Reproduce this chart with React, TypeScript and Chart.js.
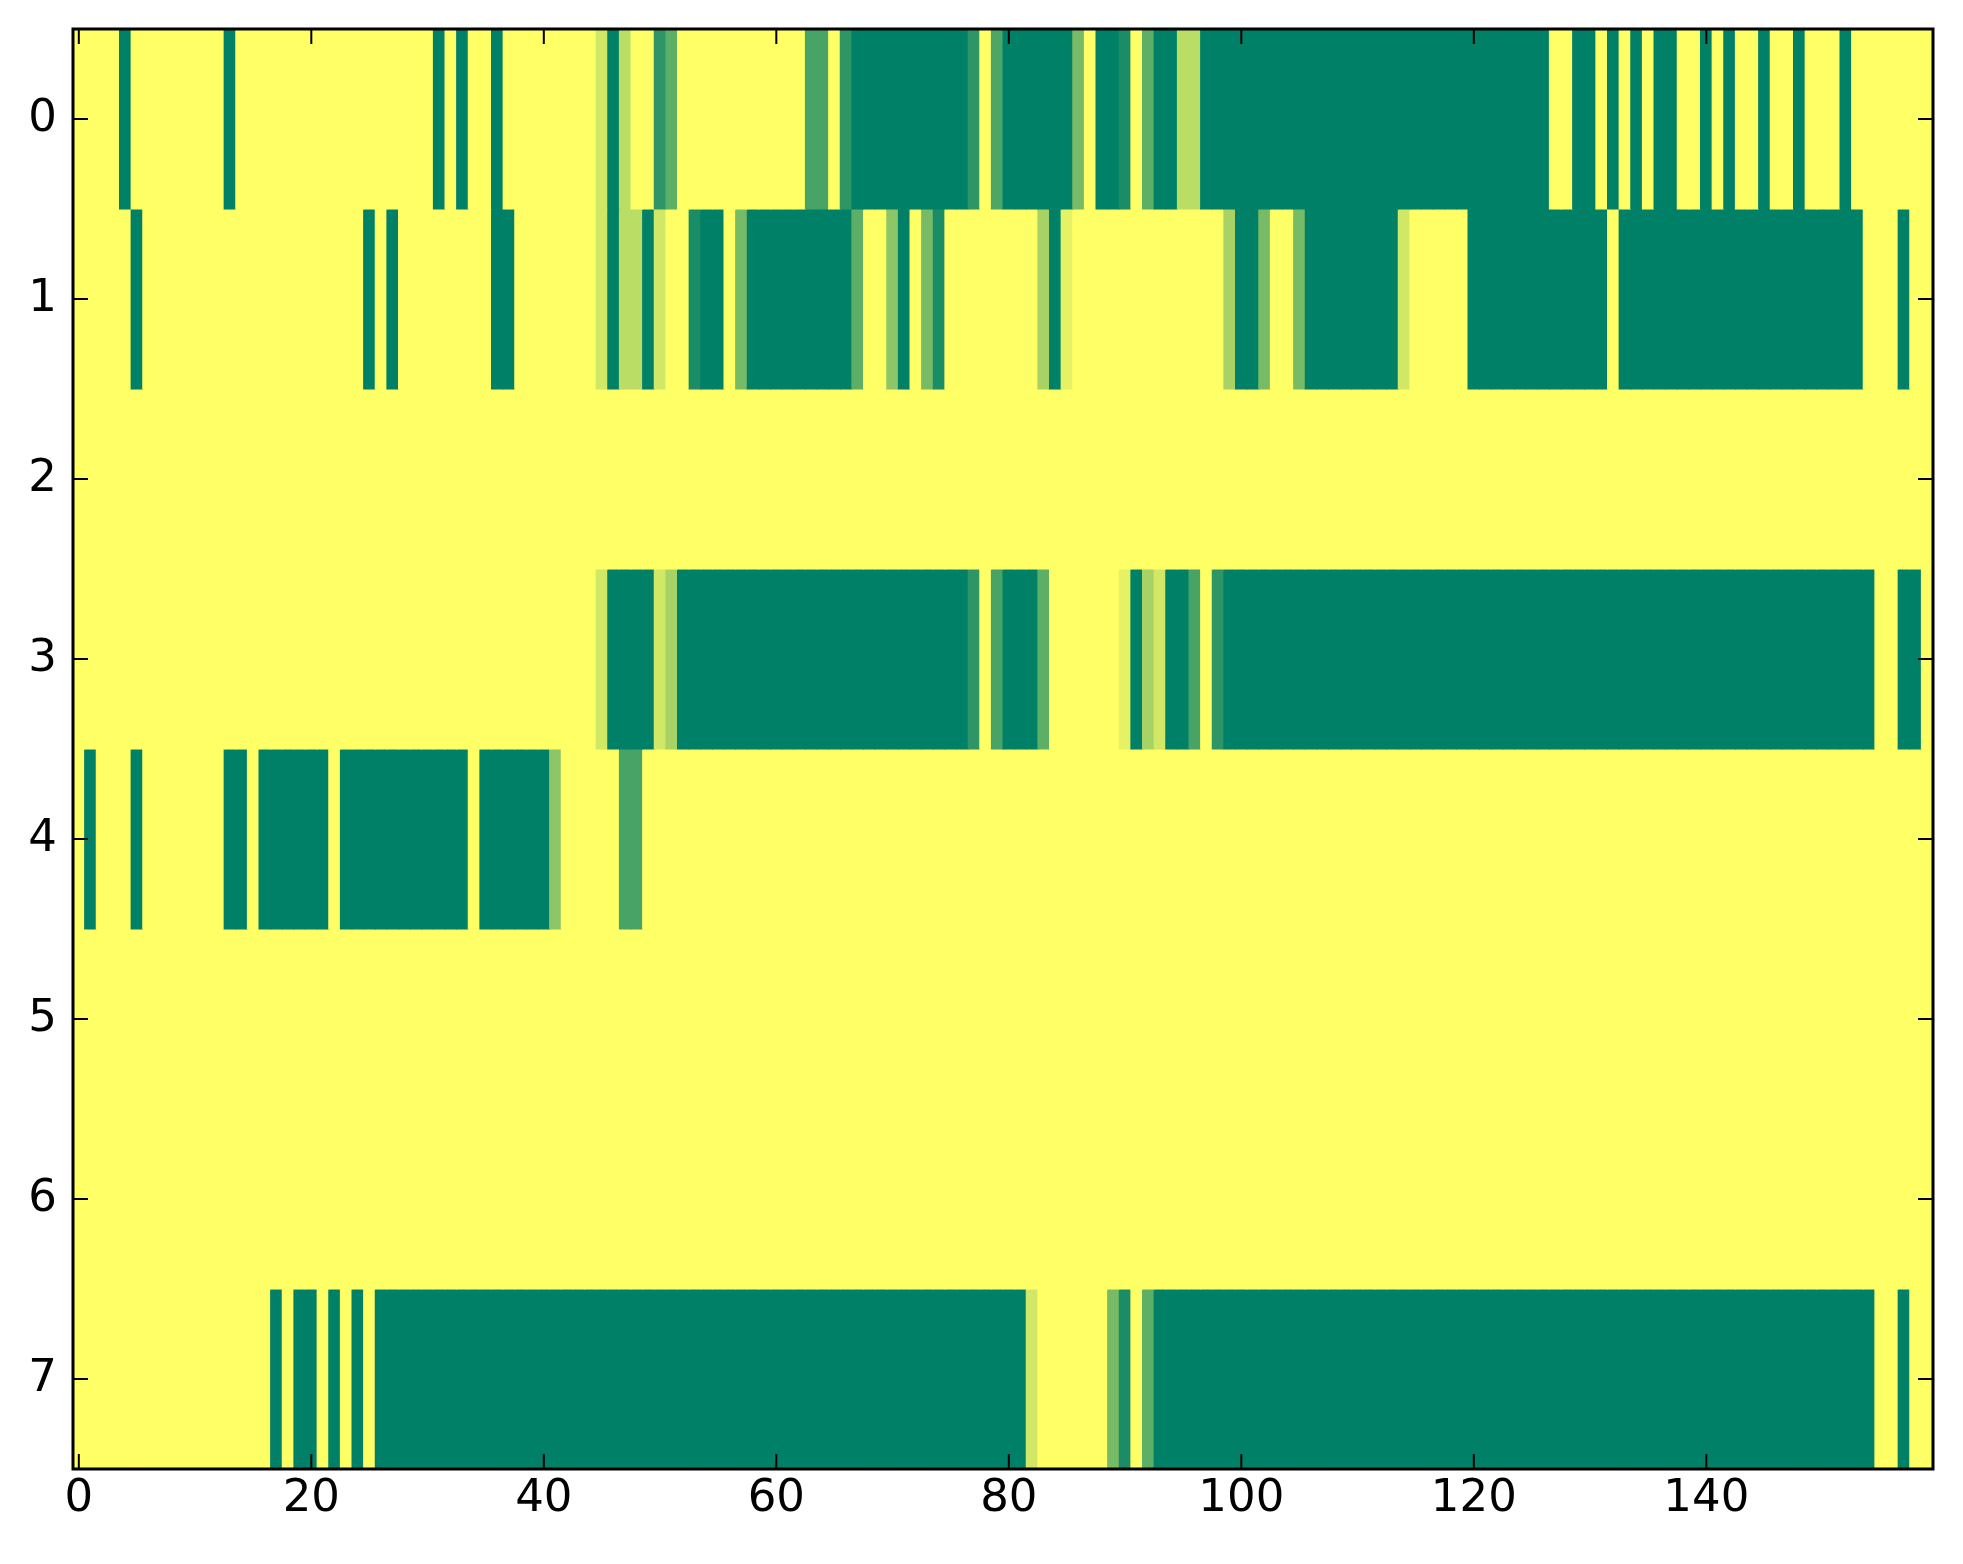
import React, { useEffect, useRef } from "react";
import { Chart, registerables } from "chart.js";

Chart.register(...registerables);

// Each row: 160 cell values in [0, 1] (0 = green, 1 = yellow, "summer" colormap)
const row0 = [
  1, 1, 1, 1, 0, 1, 1, 1, 1, 1,
  1, 1, 1, 0, 1, 1, 1, 1, 1, 1,
  1, 1, 1, 1, 1, 1, 1, 1, 1, 1,
  1, 0, 1, 0, 1, 1, 0, 1, 1, 1,
  1, 1, 1, 1, 1, 0.82, 0, 0.73, 1, 1,
  0.18, 0.37, 1, 1, 1, 1, 1, 1, 1, 1,
  1, 1, 1, 0.28, 0.28, 1, 0.18, 0, 0, 0,
  0, 0, 0, 0, 0, 0, 0, 0.18, 1, 0.3,
  0, 0, 0, 0, 0, 0, 0.47, 1, 0, 0,
  0.1, 1, 0.37, 0, 0, 0.73, 0.73, 0, 0, 0,
  0, 0, 0, 0, 0, 0, 0, 0, 0, 0,
  0, 0, 0, 0, 0, 0, 0, 0, 0, 0,
  0, 0, 0, 0, 0, 0, 0, 1, 1, 0,
  0, 1, 0, 1, 0, 1, 0, 0, 1, 1,
  0, 1, 0, 1, 1, 0, 1, 1, 0, 1,
  1, 1, 0, 1, 1, 1, 1, 1, 1, 1,
];

const row1 = [
  1, 1, 1, 1, 1, 0, 1, 1, 1, 1,
  1, 1, 1, 1, 1, 1, 1, 1, 1, 1,
  1, 1, 1, 1, 1, 0, 1, 0, 1, 1,
  1, 1, 1, 1, 1, 1, 0, 0, 1, 1,
  1, 1, 1, 1, 1, 0.82, 0, 0.73, 0.73, 0,
  0.82, 1, 1, 0.1, 0, 0, 1, 0.47, 0, 0,
  0, 0, 0, 0, 0, 0, 0, 0.37, 1, 1,
  0.55, 0, 1, 0.47, 0.1, 1, 1, 1, 1, 1,
  1, 1, 1, 0.65, 0, 0.9, 1, 1, 1, 1,
  1, 1, 1, 1, 1, 1, 1, 1, 1, 0.65,
  0, 0, 0.47, 1, 1, 0.47, 0, 0, 0, 0,
  0, 0, 0, 0, 0.82, 1, 1, 1, 1, 1,
  0, 0, 0, 0, 0, 0, 0, 0, 0, 0,
  0, 0, 1, 0, 0, 0, 0, 0, 0, 0,
  0, 0, 0, 0, 0, 0, 0, 0, 0, 0,
  0, 0, 0, 0, 1, 1, 1, 0, 1, 1,
];

const row2 = [
  1, 1, 1, 1, 1, 1, 1, 1, 1, 1,
  1, 1, 1, 1, 1, 1, 1, 1, 1, 1,
  1, 1, 1, 1, 1, 1, 1, 1, 1, 1,
  1, 1, 1, 1, 1, 1, 1, 1, 1, 1,
  1, 1, 1, 1, 1, 1, 1, 1, 1, 1,
  1, 1, 1, 1, 1, 1, 1, 1, 1, 1,
  1, 1, 1, 1, 1, 1, 1, 1, 1, 1,
  1, 1, 1, 1, 1, 1, 1, 1, 1, 1,
  1, 1, 1, 1, 1, 1, 1, 1, 1, 1,
  1, 1, 1, 1, 1, 1, 1, 1, 1, 1,
  1, 1, 1, 1, 1, 1, 1, 1, 1, 1,
  1, 1, 1, 1, 1, 1, 1, 1, 1, 1,
  1, 1, 1, 1, 1, 1, 1, 1, 1, 1,
  1, 1, 1, 1, 1, 1, 1, 1, 1, 1,
  1, 1, 1, 1, 1, 1, 1, 1, 1, 1,
  1, 1, 1, 1, 1, 1, 1, 1, 1, 1,
];

const row3 = [
  1, 1, 1, 1, 1, 1, 1, 1, 1, 1,
  1, 1, 1, 1, 1, 1, 1, 1, 1, 1,
  1, 1, 1, 1, 1, 1, 1, 1, 1, 1,
  1, 1, 1, 1, 1, 1, 1, 1, 1, 1,
  1, 1, 1, 1, 1, 0.82, 0, 0, 0, 0,
  0.82, 0.65, 0, 0, 0, 0, 0, 0, 0, 0,
  0, 0, 0, 0, 0, 0, 0, 0, 0, 0,
  0, 0, 0, 0, 0, 0, 0, 0.18, 1, 0.28,
  0, 0, 0, 0.37, 1, 1, 1, 1, 1, 1,
  0.9, 0, 0.65, 0.82, 0, 0, 0.28, 1, 0.18, 0,
  0, 0, 0, 0, 0, 0, 0, 0, 0, 0,
  0, 0, 0, 0, 0, 0, 0, 0, 0, 0,
  0, 0, 0, 0, 0, 0, 0, 0, 0, 0,
  0, 0, 0, 0, 0, 0, 0, 0, 0, 0,
  0, 0, 0, 0, 0, 0, 0, 0, 0, 0,
  0, 0, 0, 0, 0, 1, 1, 0, 0, 1,
];

const row4 = [
  1, 0, 1, 1, 1, 0, 1, 1, 1, 1,
  1, 1, 1, 0, 0, 1, 0, 0, 0, 0,
  0, 0, 1, 0, 0, 0, 0, 0, 0, 0,
  0, 0, 0, 0, 1, 0, 0, 0, 0, 0,
  0, 0.55, 1, 1, 1, 1, 1, 0.28, 0.28, 1,
  1, 1, 1, 1, 1, 1, 1, 1, 1, 1,
  1, 1, 1, 1, 1, 1, 1, 1, 1, 1,
  1, 1, 1, 1, 1, 1, 1, 1, 1, 1,
  1, 1, 1, 1, 1, 1, 1, 1, 1, 1,
  1, 1, 1, 1, 1, 1, 1, 1, 1, 1,
  1, 1, 1, 1, 1, 1, 1, 1, 1, 1,
  1, 1, 1, 1, 1, 1, 1, 1, 1, 1,
  1, 1, 1, 1, 1, 1, 1, 1, 1, 1,
  1, 1, 1, 1, 1, 1, 1, 1, 1, 1,
  1, 1, 1, 1, 1, 1, 1, 1, 1, 1,
  1, 1, 1, 1, 1, 1, 1, 1, 1, 1,
];

const row5 = [
  1, 1, 1, 1, 1, 1, 1, 1, 1, 1,
  1, 1, 1, 1, 1, 1, 1, 1, 1, 1,
  1, 1, 1, 1, 1, 1, 1, 1, 1, 1,
  1, 1, 1, 1, 1, 1, 1, 1, 1, 1,
  1, 1, 1, 1, 1, 1, 1, 1, 1, 1,
  1, 1, 1, 1, 1, 1, 1, 1, 1, 1,
  1, 1, 1, 1, 1, 1, 1, 1, 1, 1,
  1, 1, 1, 1, 1, 1, 1, 1, 1, 1,
  1, 1, 1, 1, 1, 1, 1, 1, 1, 1,
  1, 1, 1, 1, 1, 1, 1, 1, 1, 1,
  1, 1, 1, 1, 1, 1, 1, 1, 1, 1,
  1, 1, 1, 1, 1, 1, 1, 1, 1, 1,
  1, 1, 1, 1, 1, 1, 1, 1, 1, 1,
  1, 1, 1, 1, 1, 1, 1, 1, 1, 1,
  1, 1, 1, 1, 1, 1, 1, 1, 1, 1,
  1, 1, 1, 1, 1, 1, 1, 1, 1, 1,
];

const row6 = [
  1, 1, 1, 1, 1, 1, 1, 1, 1, 1,
  1, 1, 1, 1, 1, 1, 1, 1, 1, 1,
  1, 1, 1, 1, 1, 1, 1, 1, 1, 1,
  1, 1, 1, 1, 1, 1, 1, 1, 1, 1,
  1, 1, 1, 1, 1, 1, 1, 1, 1, 1,
  1, 1, 1, 1, 1, 1, 1, 1, 1, 1,
  1, 1, 1, 1, 1, 1, 1, 1, 1, 1,
  1, 1, 1, 1, 1, 1, 1, 1, 1, 1,
  1, 1, 1, 1, 1, 1, 1, 1, 1, 1,
  1, 1, 1, 1, 1, 1, 1, 1, 1, 1,
  1, 1, 1, 1, 1, 1, 1, 1, 1, 1,
  1, 1, 1, 1, 1, 1, 1, 1, 1, 1,
  1, 1, 1, 1, 1, 1, 1, 1, 1, 1,
  1, 1, 1, 1, 1, 1, 1, 1, 1, 1,
  1, 1, 1, 1, 1, 1, 1, 1, 1, 1,
  1, 1, 1, 1, 1, 1, 1, 1, 1, 1,
];

const row7 = [
  1, 1, 1, 1, 1, 1, 1, 1, 1, 1,
  1, 1, 1, 1, 1, 1, 1, 0, 1, 0,
  0, 1, 0, 1, 0, 1, 0, 0, 0, 0,
  0, 0, 0, 0, 0, 0, 0, 0, 0, 0,
  0, 0, 0, 0, 0, 0, 0, 0, 0, 0,
  0, 0, 0, 0, 0, 0, 0, 0, 0, 0,
  0, 0, 0, 0, 0, 0, 0, 0, 0, 0,
  0, 0, 0, 0, 0, 0, 0, 0, 0, 0,
  0, 0, 0.82, 1, 1, 1, 1, 1, 1, 0.47,
  0.1, 1, 0.37, 0, 0, 0, 0, 0, 0, 0,
  0, 0, 0, 0, 0, 0, 0, 0, 0, 0,
  0, 0, 0, 0, 0, 0, 0, 0, 0, 0,
  0, 0, 0, 0, 0, 0, 0, 0, 0, 0,
  0, 0, 0, 0, 0, 0, 0, 0, 0, 0,
  0, 0, 0, 0, 0, 0, 0, 0, 0, 0,
  0, 0, 0, 0, 0, 1, 1, 0, 1, 1,
];

const rows = [row0, row1, row2, row3, row4, row5, row6, row7];
const xTickValues = [0, 20, 40, 60, 80, 100, 120, 140];
const yTickValues = [0, 1, 2, 3, 4, 5, 6, 7];

function summer(v: number): string {
  const r = Math.round(255 * v);
  const g = Math.round(127.5 + 127.5 * v);
  return `rgb(${r},${g},102)`;
}

const framePlugin = {
  id: "frameTicks",
  afterDatasetsDraw(chart: any) {
    const { ctx, chartArea, scales } = chart;
    const { left, right, top, bottom } = chartArea;
    const xs = scales.x;
    const ys = scales.y;
    const tl = 15;
    ctx.save();
    ctx.strokeStyle = "#000";
    ctx.lineWidth = 2;
    ctx.beginPath();
    xs.ticks.forEach((t: any) => {
      const px = xs.getPixelForValue(t.value);
      ctx.moveTo(px, bottom);
      ctx.lineTo(px, bottom - tl);
      ctx.moveTo(px, top);
      ctx.lineTo(px, top + tl);
    });
    ys.ticks.forEach((t: any) => {
      const py = ys.getPixelForValue(t.value);
      ctx.moveTo(left, py);
      ctx.lineTo(left + tl, py);
      ctx.moveTo(right, py);
      ctx.lineTo(right - tl, py);
    });
    ctx.stroke();
    ctx.lineWidth = 3;
    ctx.strokeRect(left, top, right - left, bottom - top);
    ctx.restore();
  },
};

function zeroPadding(s: any) {
  s.paddingTop = 0;
  s.paddingBottom = 0;
  s.paddingLeft = 0;
  s.paddingRight = 0;
}

export default function App() {
  const canvasRef = useRef<HTMLCanvasElement | null>(null);

  useEffect(() => {
    const canvas = canvasRef.current;
    if (!canvas) return;
    const font = { family: "'DejaVu Sans', sans-serif", size: 45 };
    const chart = new Chart(canvas, {
      type: "bar",
      data: {
        datasets: rows.map((vals, r) => ({
          data: vals.map((v, c) => ({ x: c, y: [r - 0.5, r + 0.5] })),
          backgroundColor: vals.map(summer),
          borderWidth: 0,
          grouped: false,
          barPercentage: 1,
          categoryPercentage: 1,
          inflateAmount: 0.5,
        })) as any,
      },
      options: {
        animation: false,
        responsive: false,
        devicePixelRatio: 1,
        layout: { padding: { left: 0, top: 29, right: 30, bottom: 0 } },
        plugins: { legend: { display: false }, tooltip: { enabled: false } },
        scales: {
          x: {
            type: "linear",
            min: -0.5,
            max: 159.5,
            offset: false,
            grid: { display: false, drawTicks: false },
            border: { display: false },
            afterBuildTicks: (s: any) => {
              s.ticks = xTickValues.map((v) => ({ value: v }));
            },
            afterFit: (s: any) => {
              s.height = 95;
              zeroPadding(s);
            },
            ticks: {
              autoSkip: false,
              maxRotation: 0,
              padding: 3,
              color: "#000",
              font,
            },
          },
          y: {
            type: "linear",
            reverse: true,
            min: -0.5,
            max: 7.5,
            grid: { display: false, drawTicks: false },
            border: { display: false },
            afterBuildTicks: (s: any) => {
              s.ticks = yTickValues.map((v) => ({ value: v }));
            },
            afterFit: (s: any) => {
              s.width = 73;
              zeroPadding(s);
            },
            ticks: {
              padding: 16,
              color: "#000",
              font,
            },
          },
        },
      } as any,
      plugins: [framePlugin],
    });
    return () => chart.destroy();
  }, []);

  return (
    <div
      style={{
        position: "absolute",
        left: 0,
        top: 0,
        width: 1963,
        height: 1564,
        background: "#fff",
      }}
    >
      <canvas ref={canvasRef} width={1963} height={1564} />
    </div>
  );
}
